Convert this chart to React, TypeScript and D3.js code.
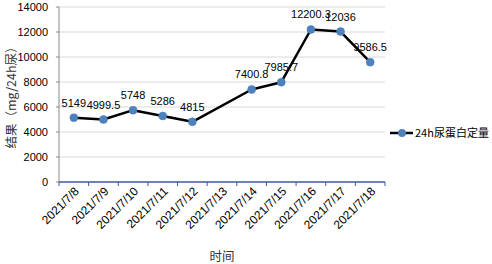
import React from "react";
import * as d3 from "d3";

const categories = ["2021/7/8","2021/7/9","2021/7/10","2021/7/11","2021/7/12","2021/7/13","2021/7/14","2021/7/15","2021/7/16","2021/7/17","2021/7/18"];
const values: (number | null)[] = [5149, 4999.5, 5748, 5286, 4815, null, 7400.8, 7985.7, 12200.3, 12036, 9586.5];
const labels = ["5149","4999.5","5748","5286","4815","","7400.8","7985.7","12200.3","12036","9586.5"];
const yTicks = [0, 2000, 4000, 6000, 8000, 10000, 12000, 14000];
const seriesName = "24h尿蛋白定量";
const yTitle = "结果（mg/24h尿）";
const xTitle = "时间";

export default function App() {
  const W = 492, H = 264;
  const left = 59, right = 385, top = 7, bottom = 182;
  const x = d3.scaleBand<string>().domain(categories).range([left, right]).padding(0);
  const y = d3.scaleLinear().domain([0, 14000]).range([bottom, top]);
  const cx = (c: string) => (x(c) as number) + x.bandwidth() / 2;
  const pts = categories
    .map((c, i) => ({ c, v: values[i], l: labels[i] }))
    .filter((d) => d.v !== null) as { c: string; v: number; l: string }[];
  const line = d3.line<{ c: string; v: number }>().x((d) => cx(d.c)).y((d) => y(d.v));
  const font = "'Liberation Sans', Arial, sans-serif";
  const cjk = "'Noto Sans CJK SC', 'Liberation Sans', sans-serif";
  const boundaries = categories.map((c) => x(c) as number).concat([right]);
  return (
    <svg width={W} height={H} style={{ position: "absolute", left: 0, top: 0, background: "#fff" }}>
      {yTicks.map((t) => (
        <g key={t}>
          {t > 0 && <line x1={left} x2={right} y1={y(t)} y2={y(t)} stroke="#d9d9d9" strokeWidth={1} />}
          <line x1={left - 3} x2={left} y1={y(t)} y2={y(t)} stroke="#888" strokeWidth={1} />
          <text x={48} y={y(t)} dy="0.35em" textAnchor="end" fontSize={11} fontFamily={font} fill="#000">{t}</text>
        </g>
      ))}
      <line x1={left} x2={left} y1={top} y2={bottom} stroke="#888" strokeWidth={1} />
      <line x1={left} x2={right} y1={bottom} y2={bottom} stroke="#3b5a9a" strokeWidth={1.3} />
      {boundaries.map((b, i) => (
        <line key={i} x1={b} x2={b} y1={bottom} y2={bottom + 4} stroke="#3b5a9a" strokeWidth={1} />
      ))}
      {categories.map((c) => (
        <text key={c} transform={`translate(${cx(c) + 6},${bottom + 10}) rotate(-45)`} textAnchor="end" fontSize={12} fontFamily={font} fill="#000">{c}</text>
      ))}
      <path d={line(pts) || ""} fill="none" stroke="#000" strokeWidth={2.5} strokeLinejoin="round" />
      {pts.map((d) => (
        <circle key={d.c} cx={cx(d.c)} cy={y(d.v)} r={4} fill="#4f81bd" stroke="#4a7ebb" strokeWidth={0.5} />
      ))}
      {pts.map((d) => (
        <text key={"l" + d.c} x={cx(d.c)} y={y(d.v) - 11} textAnchor="middle" fontSize={11} fontFamily={font} fill="#000">{d.l}</text>
      ))}
      <text transform={`translate(16,${(top + bottom) / 2}) rotate(-90)`} textAnchor="middle" fontSize={12.5} fontFamily={cjk} fill="#333">{yTitle}</text>
      <text x={222} y={261} textAnchor="middle" fontSize={12.5} fontFamily={cjk} fill="#333">{xTitle}</text>
      <line x1={390} x2={413} y1={133} y2={133} stroke="#000" strokeWidth={2.5} />
      <circle cx={402} cy={133} r={4} fill="#4f81bd" />
      <text x={415} y={133} dy="0.35em" fontSize={11} fontFamily={cjk} fill="#000">{seriesName}</text>
    </svg>
  );
}
